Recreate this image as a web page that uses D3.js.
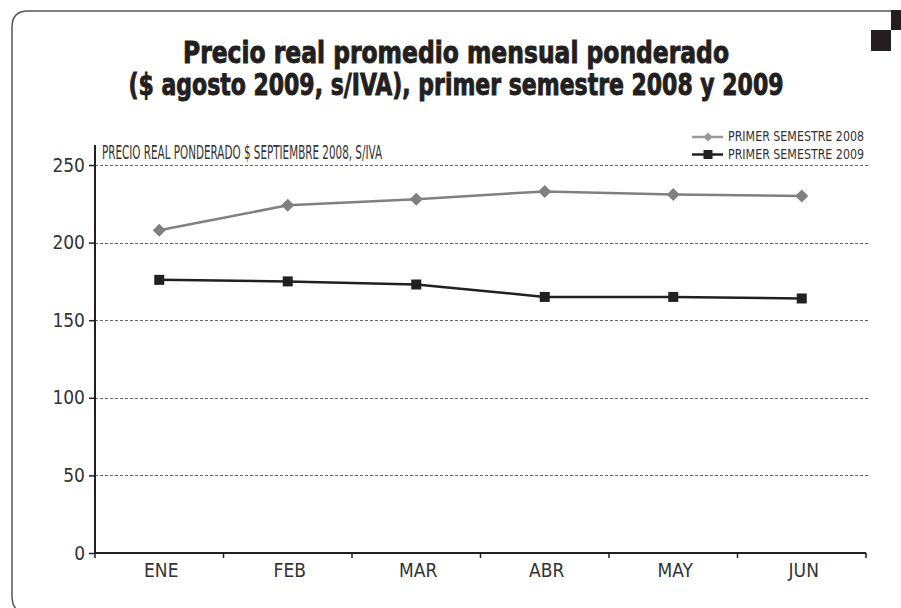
<!DOCTYPE html>
<html>
<head>
<meta charset="utf-8">
<script src="https://cdn.jsdelivr.net/npm/d3@7"></script>
<style>
  body { margin: 0; background: #fff; }
  svg { display: block; }
  .narrow { font-family: "Liberation Sans Narrow", "DejaVu Sans Condensed", "Roboto Condensed", sans-serif; }
</style>
</head>
<body>
<div id="chart"></div>
<script>
var months = ["ENE", "FEB", "MAR", "ABR", "MAY", "JUN"];
var values2008 = [208, 224, 228, 233, 231, 230];
var values2009 = [176, 175, 173, 165, 165, 164];
var yTicks = [0, 50, 100, 150, 200, 250];
var seriesNames = ["PRIMER SEMESTRE 2008", "PRIMER SEMESTRE 2009"];
var titleLines = ["Precio real promedio mensual ponderado", "($ agosto 2009, s/IVA), primer semestre 2008 y 2009"];

var width = 901, height = 608;
var plotLeft = 95, plotRight = 866, plotBottom = 553, plotTop = 145;
var ink = "#231f20";

var svg = d3.select("#chart").append("svg")
    .attr("width", width)
    .attr("height", height);

// frame: rounded corners on the left, top edge only
svg.append("path")
    .attr("d", "M16,609 Q12,604 12,596 L12,27 Q12,11 28,11 L891,11")
    .attr("fill", "none")
    .attr("stroke", "#555")
    .attr("stroke-width", 1.5);
svg.append("rect").attr("x", 891).attr("y", 10).attr("width", 10).attr("height", 20).attr("fill", ink);
svg.append("rect").attr("x", 871).attr("y", 30).attr("width", 20).attr("height", 21).attr("fill", ink);

// title, two lines
var titleWidths = [546, 655];
svg.append("g").selectAll("text")
    .data(titleLines).enter().append("text")
    .attr("class", "narrow")
    .attr("x", 456)
    .attr("y", function(d, i) { return 63 + i * 32; })
    .attr("text-anchor", "middle")
    .attr("textLength", function(d, i) { return titleWidths[i]; })
    .attr("lengthAdjust", "spacingAndGlyphs")
    .style("font-weight", "bold")
    .style("font-size", "30px")
    .attr("fill", ink)
    .attr("stroke", ink)
    .attr("stroke-width", 0.9)
    .text(function(d) { return d; });

var x = d3.scaleBand().domain(months).range([plotLeft, plotRight]).padding(0);
var y = d3.scaleLinear().domain([0, 250]).range([plotBottom, 165]);

// gridlines
svg.append("g").selectAll("line")
    .data(yTicks.filter(function(d) { return d > 0; }))
    .enter().append("line")
    .attr("x1", plotLeft).attr("x2", 868)
    .attr("y1", function(d) { return Math.round(y(d)) + 0.5; })
    .attr("y2", function(d) { return Math.round(y(d)) + 0.5; })
    .attr("stroke", "#666")
    .attr("stroke-width", 1)
    .attr("stroke-dasharray", "3,2");

// y axis
var yAxis = d3.axisLeft(y).tickValues(yTicks).tickSize(6).tickPadding(4);
var gy = svg.append("g").attr("transform", "translate(" + plotLeft + ",0)").call(yAxis);
gy.select(".domain").remove();
gy.selectAll(".tick line").attr("stroke", ink).attr("stroke-width", 1.5);
gy.selectAll(".tick text").attr("class", "narrow").style("font-size", "19px").attr("fill", "#333");
svg.append("line")
    .attr("x1", plotLeft).attr("x2", plotLeft).attr("y1", plotTop).attr("y2", plotBottom)
    .attr("stroke", ink).attr("stroke-width", 2);

// x axis with ticks at band edges
var edges = months.map(function(m) { return x(m); }).concat([plotRight]);
svg.append("line")
    .attr("x1", plotLeft).attr("x2", plotRight).attr("y1", plotBottom).attr("y2", plotBottom)
    .attr("stroke", ink).attr("stroke-width", 2);
svg.append("g").selectAll("line")
    .data(edges).enter().append("line")
    .attr("x1", function(d) { return d; }).attr("x2", function(d) { return d; })
    .attr("y1", plotBottom).attr("y2", plotBottom + 5)
    .attr("stroke", ink).attr("stroke-width", 1.5);
svg.append("g").selectAll("text")
    .data(months).enter().append("text")
    .attr("class", "narrow")
    .attr("x", function(d) { return x(d) + x.bandwidth() / 2 + 2; })
    .attr("y", 577)
    .attr("text-anchor", "middle")
    .style("font-size", "19px")
    .attr("fill", "#333")
    .text(function(d) { return d; });

// axis caption
svg.append("text").attr("class", "narrow")
    .attr("x", 102).attr("y", 159)
    .attr("textLength", 280).attr("lengthAdjust", "spacingAndGlyphs")
    .style("font-size", "20px")
    .attr("fill", "#333")
    .text("PRECIO REAL PONDERADO $ SEPTIEMBRE 2008, S/IVA");

var line = d3.line()
    .x(function(d, i) { return x(months[i]) + x.bandwidth() / 2; })
    .y(function(d) { return y(d); });

function diamond(sel, cx, cy, r, color) {
  sel.append("path")
      .attr("d", "M" + cx + "," + (cy - r) + "L" + (cx + r) + "," + cy + "L" + cx + "," + (cy + r) + "L" + (cx - r) + "," + cy + "Z")
      .attr("fill", color);
}

// 2008 series
svg.append("path").datum(values2008)
    .attr("d", line).attr("fill", "none")
    .attr("stroke", "#808080").attr("stroke-width", 2.5);
var g08 = svg.append("g");
values2008.forEach(function(d, i) {
  diamond(g08, x(months[i]) + x.bandwidth() / 2, y(d), 6.5, "#808080");
});

// 2009 series
svg.append("path").datum(values2009)
    .attr("d", line).attr("fill", "none")
    .attr("stroke", ink).attr("stroke-width", 2.5);
svg.append("g").selectAll("rect")
    .data(values2009).enter().append("rect")
    .attr("x", function(d, i) { return x(months[i]) + x.bandwidth() / 2 - 5; })
    .attr("y", function(d) { return y(d) - 5; })
    .attr("width", 10).attr("height", 10)
    .attr("fill", ink);

// legend
var legend = svg.append("g");
legend.append("line").attr("x1", 692).attr("x2", 723).attr("y1", 137).attr("y2", 137)
    .attr("stroke", "#999").attr("stroke-width", 2.5);
diamond(legend, 708, 137, 4.5, "#999");
legend.append("line").attr("x1", 692).attr("x2", 723).attr("y1", 154.5).attr("y2", 154.5)
    .attr("stroke", ink).attr("stroke-width", 2.5);
legend.append("rect").attr("x", 703.5).attr("y", 150).attr("width", 9).attr("height", 9).attr("fill", ink);
legend.selectAll("text").data(seriesNames).enter().append("text")
    .attr("class", "narrow")
    .attr("x", 728)
    .attr("y", function(d, i) { return 141 + i * 17.5; })
    .attr("textLength", 136).attr("lengthAdjust", "spacingAndGlyphs")
    .style("font-size", "14px")
    .attr("fill", "#333")
    .text(function(d) { return d; });
</script>
</body>
</html>
